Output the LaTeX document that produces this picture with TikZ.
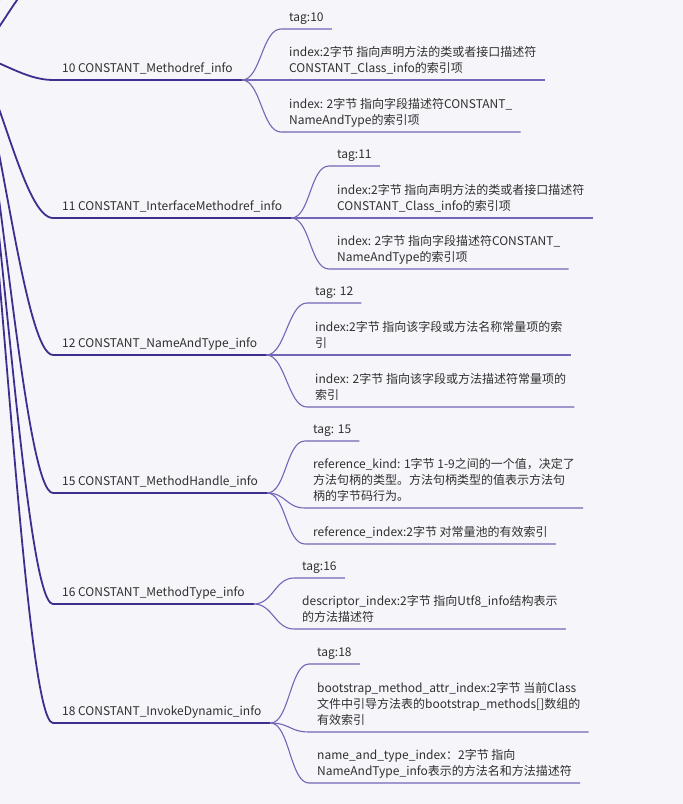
\documentclass[tikz,border=0pt]{standalone}
\usepackage{fontspec}
\setmainfont{Noto Sans CJK SC}
\definecolor{paper}{HTML}{F5F5FA}
\definecolor{limbcol}{HTML}{3E2E8E}
\definecolor{twigcol}{HTML}{7466B6}
\definecolor{ink}{HTML}{303030}
\tikzset{
  limb/.style={draw=limbcol, line width=1.8pt},
  twig/.style={draw=twigcol, line width=1.1pt},
  const/.style={anchor=south west, inner xsep=9pt, inner ysep=3pt, text=ink,
    font=\fontsize{12}{16}\selectfont, execute at end node=\strut},
  field/.style={const, inner xsep=8pt, align=left},
}
\begin{document}
\begin{tikzpicture}[x=1pt,y=-1pt]
\useasboundingbox (0,0) rectangle (683,804);
\fill[paper] (0,0) rectangle (683,804);
\clip (0,0) rectangle (683,804);
% constant pool entries
\coordinate (root) at (-25,55);
\coordinate (up1) at (53,-30);
\coordinate (up2) at (53,-110);
\node[const] (k10) at (53,80) {10 CONSTANT\_Methodref\_info};
\node[const] (k11) at (53,218) {11 CONSTANT\_InterfaceMethodref\_info};
\node[const] (k12) at (53,355) {12 CONSTANT\_NameAndType\_info};
\node[const] (k15) at (53,493) {15 CONSTANT\_MethodHandle\_info};
\node[const] (k16) at (53,604) {16 CONSTANT\_MethodType\_info};
\node[const] (k18) at (53,723) {18 CONSTANT\_InvokeDynamic\_info};
% fields
\node[field] (k10tag) at (281,29) {tag:10};
\node[field] (k10a) at (281,80) {index:2字节 指向声明方法的类或者接口描述符\\CONSTANT\_Class\_info的索引项};
\node[field] (k10b) at (281,132) {index: 2字节 指向字段描述符CONSTANT\_\\NameAndType的索引项};
\node[field] (k11tag) at (329,166) {tag:11};
\node[field] (k11a) at (329,218) {index:2字节 指向声明方法的类或者接口描述符\\CONSTANT\_Class\_info的索引项};
\node[field] (k11b) at (329,269) {index: 2字节 指向字段描述符CONSTANT\_\\NameAndType的索引项};
\node[field] (k12tag) at (307,303) {tag: 12};
\node[field] (k12a) at (307,355) {index:2字节 指向该字段或方法名称常量项的索\\引};
\node[field] (k12b) at (307,407) {index: 2字节 指向该字段或方法描述符常量项的\\索引};
\node[field] (k15tag) at (305,441) {tag: 15};
\node[field] (k15a) at (305,508) {reference\_kind: 1字节 1-9之间的一个值，决定了\\方法句柄的类型。方法句柄类型的值表示方法句\\柄的字节码行为。};
\node[field] (k15b) at (305,544) {reference\_index:2字节 对常量池的有效索引};
\node[field] (k16tag) at (294,578) {tag:16};
\node[field] (k16a) at (294,629) {descriptor\_index:2字节 指向Utf8\_info结构表示\\的方法描述符};
\node[field] (k18tag) at (309,664) {tag:18};
\node[field] (k18a) at (309,732) {bootstrap\_method\_attr\_index:2字节 当前Class\\文件中引导方法表的bootstrap\_methods[]数组的\\有效索引};
\node[field] (k18b) at (309,783) {name\_and\_type\_index：2字节 指向\\NameAndType\_info表示的方法名和方法描述符};
% branches from the root
\draw[limb] (root) .. controls (0,38) and (25,-30) .. (up1);
\draw[limb] (root) .. controls (0,22) and (25,-110) .. (up2);
\draw[limb] (root) .. controls (0,60) and (25,80) .. (k10.south west) -- (k10.south east);
\draw[limb] (root) .. controls (0,88) and (25,218) .. (k11.south west) -- (k11.south east);
\draw[limb] (root) .. controls (0,115) and (25,355) .. (k12.south west) -- (k12.south east);
\draw[limb] (root) .. controls (0,143) and (25,493) .. (k15.south west) -- (k15.south east);
\draw[limb] (root) .. controls (0,165) and (25,604) .. (k16.south west) -- (k16.south east);
\draw[limb] (root) .. controls (0,189) and (25,723) .. (k18.south west) -- (k18.south east);
% branches to the fields
\foreach \k/\f in {k10/k10tag,k10/k10a,k10/k10b,k11/k11tag,k11/k11a,k11/k11b,
  k12/k12tag,k12/k12a,k12/k12b,k15/k15tag,k15/k15a,k15/k15b,
  k16/k16tag,k16/k16a,k18/k18tag,k18/k18a,k18/k18b}
  \draw[twig] (\k.south east) .. controls +(19,0) and +(-19,0) .. (\f.south west) -- (\f.south east);
\end{tikzpicture}
\end{document}
